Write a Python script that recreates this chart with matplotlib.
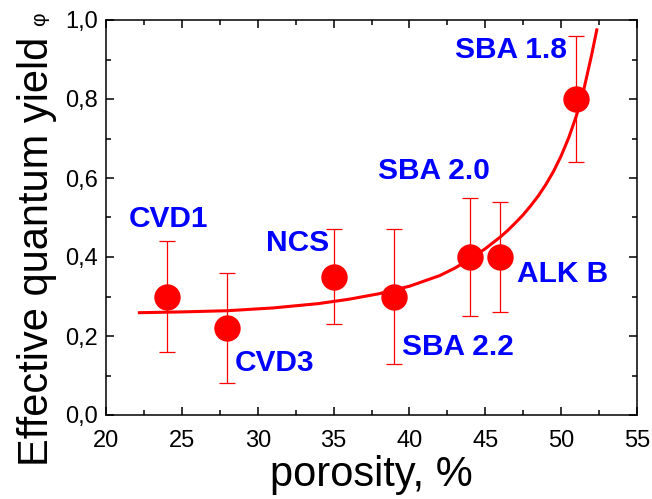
import matplotlib
matplotlib.use("Agg")
import matplotlib.pyplot as plt
from matplotlib.ticker import MultipleLocator, FuncFormatter

plt.rcParams['font.family'] = ['Liberation Sans', 'DejaVu Sans']

# Measured samples
samples = ["CVD1", "CVD3", "NCS", "SBA 2.2", "SBA 2.0", "ALK B", "SBA 1.8"]
porosity = [24, 28, 35, 39, 44, 46, 51]
yield_phi = [0.30, 0.22, 0.35, 0.30, 0.40, 0.40, 0.80]
yield_err = [0.14, 0.14, 0.12, 0.17, 0.15, 0.14, 0.16]

# Label anchor positions (left edge, vertical centre) in data units
label_x = [21.5, 28.5, 30.55, 39.5, 37.93, 47.1, 43.0]
label_y = [0.495, 0.132, 0.435, 0.171, 0.618, 0.357, 0.924]

# Fitted trend curve
fit_x = [22.2, 25, 28, 31, 34, 36, 38, 40, 42, 43, 44, 45, 46, 46.5, 47,
         47.5, 48, 48.5, 49, 49.5, 50, 50.5, 51, 51.5, 52, 52.35]
fit_y = [0.259, 0.261, 0.264, 0.271, 0.282, 0.293, 0.307, 0.326, 0.353,
         0.372, 0.395, 0.421, 0.451, 0.468, 0.487, 0.507, 0.530, 0.555,
         0.584, 0.617, 0.656, 0.702, 0.757, 0.825, 0.910, 0.975]

fig = plt.figure(figsize=(6.52, 4.99), dpi=100)
ax = fig.add_axes([106 / 652, 84 / 499, 531 / 652, 395 / 499])

ax.plot(fit_x, fit_y, color='#ff0000', lw=2.2, zorder=2,
        solid_joinstyle='round')
ax.errorbar(porosity, yield_phi, yerr=yield_err, fmt='none', ecolor='#ff0000',
            elinewidth=0.9, capsize=5.5, capthick=0.9, zorder=3)
ax.plot(porosity, yield_phi, 'o', color='#ff0000', markersize=19,
        markeredgewidth=0, zorder=4)

for name, lx, ly in zip(samples, label_x, label_y):
    ax.text(lx, ly, name, color='#0000ff', fontsize=21.5, fontweight='bold',
            ha='left', va='center', zorder=5)

ax.set_xlim(20, 55)
ax.set_ylim(0, 1.0)
ax.xaxis.set_major_locator(MultipleLocator(5))
ax.xaxis.set_minor_locator(MultipleLocator(2.5))
ax.yaxis.set_major_locator(MultipleLocator(0.2))
ax.yaxis.set_minor_locator(MultipleLocator(0.1))
ax.yaxis.set_major_formatter(FuncFormatter(lambda v, p: f"{v:.1f}".replace('.', ',')))

ax.tick_params(which='both', direction='in', top=True, right=True, width=1.1,
               labelsize=17)
ax.tick_params(axis='x', which='both', pad=11)
ax.tick_params(axis='y', which='both', pad=6)
ax.tick_params(which='major', length=5.5)
ax.tick_params(which='minor', length=3.5)
for sp in ax.spines.values():
    sp.set_linewidth(1.1)

ax.set_xlabel("porosity, %", fontsize=30, labelpad=2)
ax.set_ylabel("Effective quantum yield", fontsize=30)
ax.yaxis.set_label_coords(-0.092, 0.415)
fig.text(40 / 652, 1 - 19 / 499, "φ", fontsize=15, rotation=90,
         ha='center', va='center')

fig.savefig("out.png", dpi=100)
